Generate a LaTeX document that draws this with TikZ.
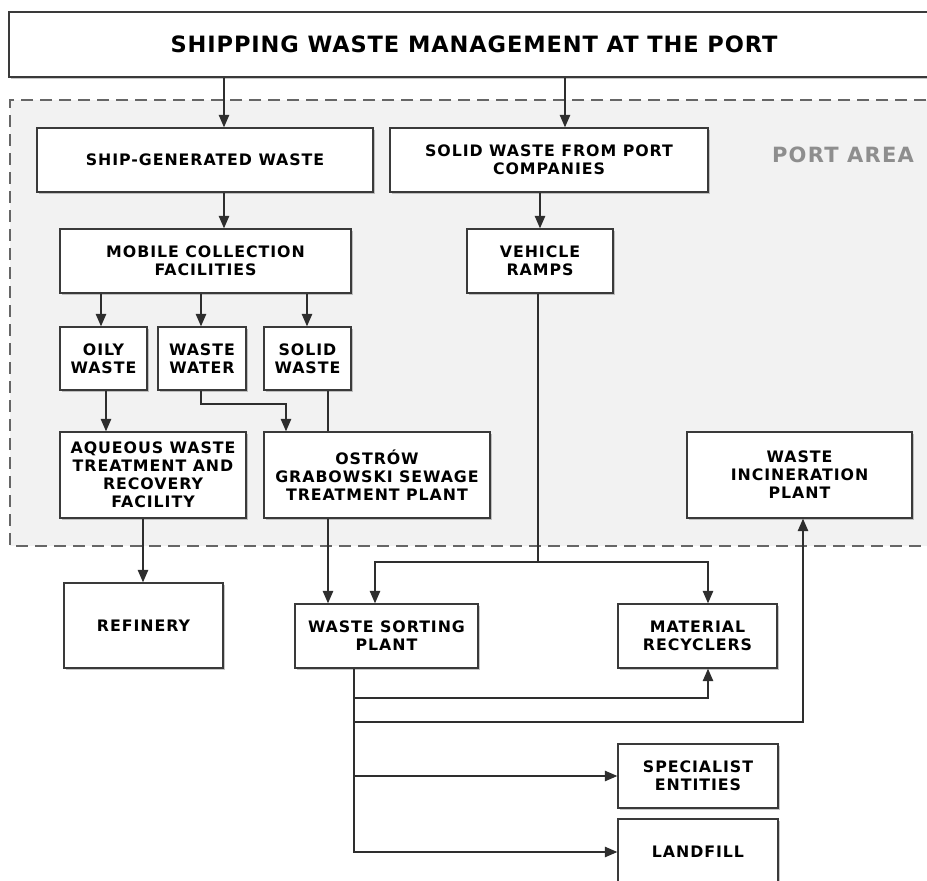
\documentclass[tikz,border=0pt]{standalone}
\usepackage{fontspec}
\setmainfont{DejaVu Sans}
\newfontfamily\boxfam[LetterSpace=6]{DejaVu Sans}
\newfontfamily\titlefam[LetterSpace=4]{DejaVu Sans}
\newfontfamily\areafam[LetterSpace=6]{DejaVu Sans}
\usetikzlibrary{arrows.meta,shadows}
\definecolor{areafill}{HTML}{F2F2F2}
\definecolor{edgec}{HTML}{3A3A3A}
\definecolor{linec}{HTML}{2E2E2E}
\definecolor{areatext}{HTML}{8E8E8E}
\tikzset{
  boxnode/.style={draw=edgec, line width=1.4pt, fill=white, rectangle, inner sep=0pt,
    align=center, text=black,
    font={\boxfam\bfseries\fontsize{15.8}{18}\selectfont},
    drop shadow={shadow xshift=1.8pt, shadow yshift=-1.8pt, fill=black!50, opacity=0.45}},
  ln/.style={draw=linec, line width=1.3pt},
  arr/.style={ln, -{Triangle[length=12.5pt,width=10.5pt]}},
}
\begin{document}
\begin{tikzpicture}[x=1pt,y=-1pt]
\useasboundingbox (0,0) rectangle (927,881);
% port area
\fill[areafill] (10,100) rectangle (940,546);
\draw[draw=black!60, line width=1.4pt, dash pattern=on 12pt off 7pt] (945,100) -- (10,100) -- (10,546) -- (945,546);
\node[text=areatext, font={\areafam\bfseries\fontsize{21}{24}\selectfont}] (area) at (843,155) {PORT AREA};

% boxes
\node[boxnode, minimum width=930pt, minimum height=65pt, font={\titlefam\bfseries\fontsize{22.5}{25}\selectfont}] (title) at (474,44.5) {SHIPPING WASTE MANAGEMENT AT THE PORT};
\node[boxnode, minimum width=336pt, minimum height=64pt] (ship) at (205,160) {SHIP-GENERATED WASTE};
\node[boxnode, minimum width=318pt, minimum height=64pt] (solid) at (549,160) {SOLID WASTE FROM PORT\\COMPANIES};
\node[boxnode, minimum width=291pt, minimum height=64pt] (mobile) at (205.5,261) {MOBILE COLLECTION\\FACILITIES};
\node[boxnode, minimum width=146pt, minimum height=64pt] (ramps) at (540,261) {VEHICLE\\RAMPS};
\node[boxnode, minimum width=87pt, minimum height=63pt] (oily) at (103.5,358.5) {OILY\\WASTE};
\node[boxnode, minimum width=88pt, minimum height=63pt] (water) at (202,358.5) {WASTE\\WATER};
\node[boxnode, minimum width=87pt, minimum height=63pt] (solidw) at (307.5,358.5) {SOLID\\WASTE};
\node[boxnode, minimum width=186pt, minimum height=86pt] (aqueous) at (153,475) {AQUEOUS WASTE\\TREATMENT AND\\RECOVERY\\FACILITY};
\node[boxnode, minimum width=226pt, minimum height=86pt] (ostrow) at (377,475) {OSTRÓW\\GRABOWSKI SEWAGE\\TREATMENT PLANT};
\node[boxnode, minimum width=225pt, minimum height=86pt] (incin) at (799.5,475) {WASTE\\INCINERATION\\PLANT};
\node[boxnode, minimum width=159pt, minimum height=85pt] (refinery) at (143.5,625.5) {REFINERY};
\node[boxnode, minimum width=183pt, minimum height=64pt] (sorting) at (386.5,636) {WASTE SORTING\\PLANT};
\node[boxnode, minimum width=159pt, minimum height=64pt] (material) at (697.5,636) {MATERIAL\\RECYCLERS};
\node[boxnode, minimum width=160pt, minimum height=64pt] (specialist) at (698,776) {SPECIALIST\\ENTITIES};
\node[boxnode, minimum width=160pt, minimum height=66pt] (landfill) at (698,852) {LANDFILL};

% helper coordinates
\coordinate (xA) at (224,0);
\coordinate (xB) at (565,0);
\coordinate (xC) at (540,0);
\coordinate (xO) at (101,0);
\coordinate (xW) at (201,0);
\coordinate (xS) at (307,0);
\coordinate (xO2) at (106,0);
\coordinate (jw) at (201,404);
\coordinate (jw2) at (286,404);
\coordinate (xSS) at (328,0);
\coordinate (xAq) at (143,0);
\coordinate (jr) at (538,562);
\coordinate (xSo) at (375,0);
\coordinate (xMa) at (708,0);
\coordinate (tr) at (354,0);
\coordinate (b1) at (0,698);
\coordinate (b2) at (0,722);
\coordinate (xIn) at (803,0);

% connectors
\draw[arr] (title.south -| xA) -- (ship.north -| xA);
\draw[arr] (title.south -| xB) -- (solid.north -| xB);
\draw[arr] (ship.south -| xA) -- (mobile.north -| xA);
\draw[arr] (solid.south -| xC) -- (ramps.north -| xC);
\draw[arr] (mobile.south -| xO) -- (oily.north -| xO);
\draw[arr] (mobile.south -| xW) -- (water.north -| xW);
\draw[arr] (mobile.south -| xS) -- (solidw.north -| xS);
\draw[arr] (oily.south -| xO2) -- (aqueous.north -| xO2);
\draw[arr] (water.south -| jw) -- (jw) -- (jw2) -- (ostrow.north -| jw2);
\draw[ln] (solidw.south -| xSS) -- (ostrow.north -| xSS);
\draw[arr] (aqueous.south -| xAq) -- (refinery.north -| xAq);
\draw[arr] (ostrow.south -| xSS) -- (sorting.north -| xSS);
\draw[ln] (ramps.south -| jr) -- (jr);
\draw[arr] (jr) -| (sorting.north -| xSo);
\draw[arr] (jr) -| (material.north -| xMa);
\draw[arr] (sorting.south -| tr) |- (landfill.west);
\draw[arr] (tr |- specialist.west) -- (specialist.west);
\draw[arr] (tr |- b1) -| (material.south -| xMa);
\draw[arr] (tr |- b2) -| (incin.south -| xIn);
\end{tikzpicture}
\end{document}
